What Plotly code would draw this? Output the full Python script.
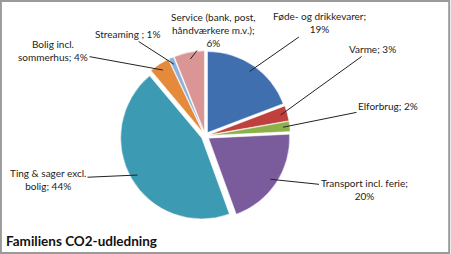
import math
import plotly.graph_objects as go

categories = ["Føde- og drikkevarer", "Varme", "Elforbrug", "Transport incl. ferie",
              "Ting & sager excl. bolig", "Bolig incl. sommerhus", "Streaming ", "Service (bank, post, håndværkere m.v.)"]
values = [19, 3, 2, 20, 44, 4, 1, 6]
label_texts = ["Føde- og drikkevarer;<br>19%", "Varme; 3%", "Elforbrug; 2%",
               "Transport incl. ferie;<br>20%", "Ting & sager excl.<br>bolig; 44%",
               "Bolig incl.<br>sommerhus; 4%", "Streaming ; 1%",
               "Service (bank, post,<br>håndværkere m.v.);<br>6%"]
colors = ["#3F6FAF", "#C0403D", "#8CB04A", "#7A5C9C", "#3C9AB2", "#E58A3A", "#8FB0DA", "#D99694"]

W, H = 451, 254
dom_x = [0.2, 0.71]
dom_y = [0.13, 0.80]
pull = 0.05

# label text centres (pixels, top-left origin)
label_pos = [(319, 23), (372, 49), (388, 106), (364, 189), (48, 179), (53, 50), (127, 34), (213, 30)]

fig = go.Figure(go.Pie(
    labels=categories, values=values, sort=False, direction="clockwise", rotation=0,
    marker=dict(colors=colors, line=dict(color="white", width=0.5)),
    pull=[pull] * len(values), textinfo="none", hoverinfo="label+percent",
    domain=dict(x=dom_x, y=dom_y), showlegend=False,
))

cx = (dom_x[0] + dom_x[1]) / 2 * W
cy = (1 - (dom_y[0] + dom_y[1]) / 2) * H
r = min((dom_x[1] - dom_x[0]) * W, (dom_y[1] - dom_y[0]) * H) / (2 + 2 * pull)
total = sum(values)
cum = 0
annotations = []
for v, txt, (tx, ty) in zip(values, label_texts, label_pos):
    mid = (cum + v / 2) / total * 2 * math.pi
    cum += v
    R = r * (1 + pull) * 0.92
    px = cx + R * math.sin(mid)
    py = cy - R * math.cos(mid)
    annotations.append(dict(
        x=px / W, y=1 - py / H, xref="paper", yref="paper",
        ax=tx - px, ay=ty - py, axref="pixel", ayref="pixel",
        text=txt, showarrow=True, arrowhead=0, arrowwidth=1, arrowcolor="#222",
        font=dict(family="Lato", size=10, color="#222"), align="center",
        standoff=0, startstandoff=0,
    ))

annotations.append(dict(
    x=4 / W, y=1 - 241 / H, xref="paper", yref="paper", xanchor="left", yanchor="middle",
    text="<b>Familiens CO2-udledning</b>", showarrow=False,
    font=dict(family="Lato", size=13.5, color="#111"),
))

fig.update_layout(
    width=W, height=H, margin=dict(l=0, r=0, t=0, b=0),
    paper_bgcolor="white", plot_bgcolor="white",
    annotations=annotations,
    shapes=[dict(type="rect", xref="paper", yref="paper", x0=0.002, y0=0.004, x1=0.996, y1=0.996,
                 line=dict(color="#9a9a9a", width=2))],
)

fig.write_html("out.html")
